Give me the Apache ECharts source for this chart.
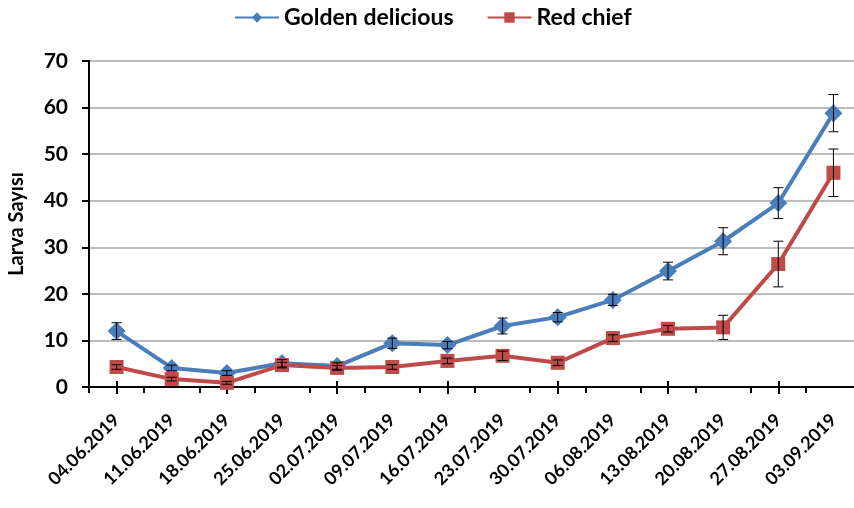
<!DOCTYPE html>
<html>
<head>
<meta charset="utf-8">
<script src="https://cdn.jsdelivr.net/npm/echarts@6/dist/echarts.min.js"></script>
<style>
  html, body { margin: 0; padding: 0; background: #fff; }
  #chart { width: 854px; height: 508px; }
</style>
</head>
<body>
<div id="chart"></div>
<script>
// sampling dates
var dates = ['04.06.2019', '11.06.2019', '18.06.2019', '25.06.2019', '02.07.2019', '09.07.2019', '16.07.2019',
  '23.07.2019', '30.07.2019', '06.08.2019', '13.08.2019', '20.08.2019', '27.08.2019', '03.09.2019'];

// mean larva counts
var golden = [12.0, 4.1, 3.0, 5.1, 4.5, 9.4, 9.0, 13.1, 15.0, 18.7, 24.9, 31.3, 39.5, 58.8];
var redChief = [4.3, 1.7, 0.9, 4.7, 4.1, 4.3, 5.6, 6.7, 5.2, 10.5, 12.5, 12.8, 26.4, 46.0];

// standard errors
var goldenErr = [1.8, 0.6, 0.5, 0.8, 0.7, 1.1, 0.8, 1.7, 1.0, 1.2, 1.9, 2.9, 3.3, 4.0];
var redErr = [0.5, 0.4, 0.3, 0.6, 0.5, 0.5, 0.6, 1.0, 0.6, 0.7, 0.7, 2.6, 4.9, 5.1];

var yTicks = [0, 10, 20, 30, 40, 50, 60, 70];

var FONT = 'Lato';
var BLUE = '#4a7ebb';
var RED = '#be4b48';

function errData(vals, errs) {
  var out = [];
  for (var i = 0; i < vals.length; i++) {
    out.push([i, vals[i] - errs[i], vals[i] + errs[i]]);
  }
  return out;
}

function renderErr(params, api) {
  var x = api.value(0);
  var lo = api.coord([x, api.value(1)]);
  var hi = api.coord([x, api.value(2)]);
  var hw = 5;
  var st = { stroke: '#000', lineWidth: 1 };
  return {
    type: 'group',
    children: [
      { type: 'line', shape: { x1: lo[0], y1: lo[1], x2: hi[0], y2: hi[1] }, style: st },
      { type: 'line', shape: { x1: lo[0] - hw, y1: lo[1], x2: lo[0] + hw, y2: lo[1] }, style: st },
      { type: 'line', shape: { x1: hi[0] - hw, y1: hi[1], x2: hi[0] + hw, y2: hi[1] }, style: st }
    ]
  };
}

var myChart = echarts.init(document.getElementById('chart'));

var baseX = {
  type: 'category',
  data: dates,
  gridIndex: 0,
  position: 'bottom',
  boundaryGap: true,
  axisLine: { show: false },
  axisLabel: { show: false },
  splitLine: { show: false }
};

var option = {
  animation: false,
  textStyle: { fontFamily: FONT },
  legend: {
    top: 1,
    left: 229,
    itemGap: 33,
    itemWidth: 44,
    itemHeight: 13,
    textStyle: { fontFamily: FONT, fontWeight: 'bold', fontSize: 23, color: '#000' },
    data: ['Golden delicious', 'Red chief']
  },
  grid: { left: 89, width: 772, top: 61, height: 326, outerBoundsMode: 'none', containLabel: false },
  xAxis: [
    {
      type: 'category',
      data: dates,
      boundaryGap: true,
      axisLine: { show: true, lineStyle: { color: '#000', width: 2 } },
      axisTick: { show: true, length: 6, lineStyle: { color: '#000', width: 2 } },
      axisLabel: {
        interval: 0,
        rotate: 45,
        margin: 30,
        fontFamily: FONT,
        fontWeight: 'bold',
        fontSize: 18,
        color: '#000'
      },
      splitLine: { show: false }
    },
    Object.assign({}, baseX, {
      axisTick: { show: true, alignWithLabel: true, length: 7, lineStyle: { color: '#000', width: 2 } }
    }),
    Object.assign({}, baseX, {
      axisTick: { show: true, inside: true, alignWithLabel: true, length: 6, lineStyle: { color: '#000', width: 2 } }
    })
  ],
  yAxis: {
    type: 'value',
    min: 0,
    max: 70,
    interval: 10,
    name: 'Larva Sayısı',
    nameLocation: 'middle',
    nameRotate: 90,
    nameGap: 62,
    nameTextStyle: { fontFamily: FONT, fontWeight: 'bold', fontSize: 20, color: '#000' },
    axisLine: { show: true, lineStyle: { color: '#000', width: 2 } },
    axisTick: { show: true, length: 7, lineStyle: { color: '#000', width: 2 } },
    axisLabel: {
      margin: 21,
      fontFamily: FONT,
      fontWeight: 'bold',
      fontSize: 21,
      color: '#000',
      formatter: function (v) { return yTicks.indexOf(v) >= 0 ? String(v) : ''; }
    },
    splitLine: { show: true, lineStyle: { color: '#a6a6a6', width: 1.5 } }
  },
  series: [
    {
      name: 'Golden delicious',
      type: 'line',
      data: golden,
      symbol: 'diamond',
      symbolSize: 18,
      itemStyle: { color: BLUE },
      lineStyle: { color: BLUE, width: 4 },
      z: 3
    },
    {
      name: 'Red chief',
      type: 'line',
      data: redChief,
      symbol: 'rect',
      symbolSize: 14,
      itemStyle: { color: RED },
      lineStyle: { color: RED, width: 4 },
      z: 3
    },
    {
      type: 'custom',
      renderItem: renderErr,
      data: errData(golden, goldenErr),
      encode: { x: 0, y: [1, 2] },
      z: 4,
      silent: true
    },
    {
      type: 'custom',
      renderItem: renderErr,
      data: errData(redChief, redErr),
      encode: { x: 0, y: [1, 2] },
      z: 4,
      silent: true
    }
  ]
};

myChart.setOption(option);
</script>
</body>
</html>
